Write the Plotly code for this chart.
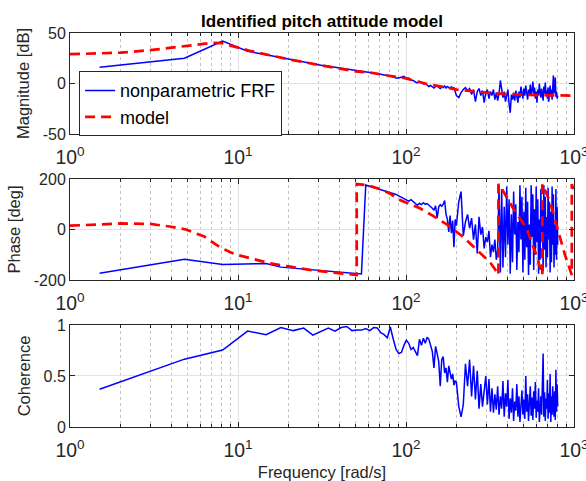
import plotly.graph_objects as go

# Frequency grid of the nonparametric estimate [rad/s]
freq = [
    1.5, 4.8, 8.1, 11.4, 14.7, 18.0, 21.3, 24.6, 27.9, 31.2,
    34.5, 37.8, 41.1, 44.4, 47.7, 51.0, 54.3, 57.6, 60.9, 64.2,
    67.5, 70.8, 74.1, 77.4, 80.7, 84.0, 87.3, 90.6, 93.9, 97.2,
    100.5, 103.8, 107.1, 110.4, 113.7, 117.0, 120.3, 123.6, 126.9, 130.2,
    133.5, 136.8, 140.1, 143.4, 146.7, 150.0, 153.3, 156.6, 159.9, 163.2,
    166.5, 169.8, 173.1, 176.4, 179.7, 183.0, 186.3, 189.6, 192.9, 196.2,
    199.5, 206.1, 212.7, 219.3, 225.9, 232.5, 239.1, 245.7, 252.3, 258.9,
    265.5, 272.1, 278.7, 285.3, 291.9, 298.5, 305.1, 311.7, 318.3, 324.9,
    331.5, 338.1, 344.7, 351.3, 357.9, 364.5, 371.1, 377.7, 384.3, 390.9,
    397.5, 404.1, 410.7, 417.3, 423.9, 430.5, 437.1, 443.7, 450.3, 456.9,
    463.5, 470.1, 476.7, 483.3, 489.9, 496.5, 503.1, 509.7, 516.3, 522.9,
    529.5, 536.1, 542.7, 549.3, 555.9, 562.5, 569.1, 575.7, 582.3, 588.9,
    595.5, 602.1, 608.7, 615.3, 621.9, 628.5, 635.1, 641.7, 648.3, 654.9,
    661.5, 668.1, 674.7, 681.3, 687.9, 694.5, 701.1, 707.7, 714.3, 720.9,
    727.5, 734.1, 740.7, 747.3, 753.9, 760.5, 767.1, 773.7, 780.3, 786.9,
    793.5, 800.1,
]

# Nonparametric FRF magnitude [dB]
frf_mag_db = [
    16, 25, 42, 32, 28.5, 25.5, 23.5, 21, 19.5, 18,
    17, 16, 15, 14, 13, 12, 11.5, 11, 10.8, 10.3,
    9.5, 9, 8.5, 8, 7.5, 6.5, 5.5, 5.5, 6.5, 7,
    5, 5.5, 3.5, 3, 1.5, 0.5, 2, 0.5, -0.5, 0,
    -1.5, -3, -2, -3.5, -4.5, -3, -2.5, -4, -5, -3.5,
    -4, -2.5, -4.5, -3, -4, -5, -3, -5.5, -4, -8,
    -12, -14, -9, -6, -4, -7, -5, -11, -6, -18,
    -8, -5, -12, -7, -19, -9, -6, -15, -8, -12,
    -6, -16, -9, -17, -10, 3, -4, -14, -8, -18,
    -12, -6, -20, -29, -11, -16, -9, -17, -7, -13,
    -19, -8, -14, -3, -10, -15, -5, -12, -2, -9,
    -16, -6, -11, -1, -12, -7, 2, -10, -4, -15,
    -8, -19, -6, -12, 0, -9, -14, -5, -11, -17,
    -3, -10, 1, -12, -7, -15, -4, -18, -9, -2,
    -13, -6, -16, 3, 8, -10, -5, 6, -13, -8,
    -15, -12,
]

# Nonparametric FRF phase [deg]
frf_phase_deg = [
    -173, -118, -139, -138, -135, -149, -153, -157, -160, -162,
    -164, -166, -168, -170, -172, -174, -176, 176, 171, 167,
    163, 158, 154, 150, 147, 143, 139, 133, 128, 122,
    116, 112, 118, 110, 105, 96, 104, 99, 106, 100,
    103, 97, 92, 84, 76, 94, 45, 90, 98, 92,
    100, 115, 60, 40, -10, 55, -15, 35, -70, 40,
    15, 110, 150, -25, 30, 60, 5, 45, -40, 20,
    -95, 50, -20, 10, -75, -30, -50, -5, -110, -60,
    -90, -40, -120, -80, 175, -170, 160, -150, 90, -110,
    170, -60, 120, -175, 60, -130, 150, -20, 100, -160,
    30, -90, 175, -40, 130, -170, 70, -120, 165, -70,
    110, -180, 20, -140, 175, -30, 140, -160, 80, -100,
    170, -50, 120, -175, 40, -120, 160, -10, 95, -165,
    175, -80, 130, -150, 50, -110, 165, -40, 110, -170,
    70, -130, 170, -60, 140, -150, 20, -100, 160, -120,
    90, -60,
]

# Magnitude-squared coherence [-]
coherence = [
    0.37, 0.665, 0.755, 0.94, 0.905, 0.975, 0.945, 0.97, 0.90, 0.94,
    0.97, 0.94, 0.975, 0.985, 0.945, 0.95, 0.95, 0.965, 0.945, 0.975,
    0.97, 0.925, 0.905, 0.875, 0.98, 0.86, 0.76, 0.72, 0.73, 0.80,
    0.85, 0.82, 0.76, 0.78, 0.74, 0.70, 0.86, 0.80, 0.87, 0.82,
    0.88, 0.86, 0.80, 0.74, 0.58, 0.79, 0.72, 0.64, 0.40, 0.66,
    0.69, 0.53, 0.58, 0.44, 0.60, 0.52, 0.47, 0.52, 0.41, 0.45,
    0.44, 0.20, 0.10, 0.22, 0.62, 0.40, 0.66, 0.30, 0.60, 0.27,
    0.55, 0.18, 0.42, 0.20, 0.35, 0.50, 0.22, 0.47, 0.15, 0.38,
    0.14, 0.32, 0.17, 0.40, 0.12, 0.30, 0.18, 0.45, 0.10, 0.33,
    0.20, 0.46, 0.08, 0.28, 0.14, 0.38, 0.06, 0.25, 0.16, 0.42,
    0.10, 0.30, 0.05, 0.22, 0.36, 0.12, 0.27, 0.08, 0.50, 0.15,
    0.32, 0.06, 0.24, 0.40, 0.11, 0.29, 0.07, 0.35, 0.18, 0.44,
    0.09, 0.26, 0.15, 0.38, 0.05, 0.22, 0.30, 0.12, 0.48, 0.72,
    0.10, 0.34, 0.06, 0.28, 0.18, 0.46, 0.08, 0.33, 0.14, 0.52,
    0.05, 0.30, 0.12, 0.40, 0.20, 0.10, 0.35, 0.07, 0.56, 0.15,
    0.42, 0.20,
]

# Identified model response
model_freq_mag = [1, 1.5, 2, 3, 4, 5, 6, 7, 8, 9, 10, 12, 15, 20, 30, 40,
                  50, 60, 80, 100, 130, 160, 200, 300, 400, 600, 800, 1000]
model_mag_db = [29, 29.5, 30.5, 33, 35.5, 37.5, 39, 40.2, 40, 38, 35.5, 32,
                28.5, 24, 18.5, 15, 12, 11, 8, 5, 0, -3, -6, -9, -10.5,
                -11.5, -12, -12]

model_freq_phase = [1, 1.5, 2, 3, 4, 4.9, 6.3, 7.8, 9, 10, 11.8, 15.5, 20.4,
                    26.8, 35, 45, 50.9, 50.9, 58.5, 70, 80, 92, 121, 144, 175,
                    218, 262, 316, 337, 355, 355, 369, 434, 522, 596, 640,
                    648, 648, 720, 786, 884, 970, 970, 1000]
model_phase_deg = [15, 20, 24, 22, 11, 0, -28, -70, -90, -101, -114, -134,
                   -147, -160, -169, -177, -180, 180, 176, 160, 143, 117, 84,
                   55, 20, -28, -77, -130, -155, -180, 180, 165, 84, 5, -101,
                   -170, -180, 180, 110, 18, -101, -180, 180, 150]

FONT = "Liberation Sans, Arial, Helvetica, sans-serif"
INK = "#262626"
BLUE = "#0000FF"
RED = "#FF0000"
MAJOR_GRID = "#e2e2e2"
MINOR_GRID = "#c4c4c4"

fig = go.Figure()

fig.add_trace(go.Scatter(x=freq, y=frf_mag_db, mode="lines",
                         line=dict(color=BLUE, width=1.5),
                         name="nonparametric FRF", legendgroup="frf",
                         xaxis="x", yaxis="y"))
fig.add_trace(go.Scatter(x=model_freq_mag, y=model_mag_db, mode="lines",
                         line=dict(color=RED, width=2.7, dash="10px,6px"),
                         name="model", legendgroup="model",
                         xaxis="x", yaxis="y"))
fig.add_trace(go.Scatter(x=freq, y=frf_phase_deg, mode="lines",
                         line=dict(color=BLUE, width=1.5), showlegend=False,
                         xaxis="x2", yaxis="y2"))
fig.add_trace(go.Scatter(x=model_freq_phase, y=model_phase_deg, mode="lines",
                         line=dict(color=RED, width=2.7, dash="10px,6px"),
                         showlegend=False, xaxis="x2", yaxis="y2"))
fig.add_trace(go.Scatter(x=freq, y=coherence, mode="lines",
                         line=dict(color=BLUE, width=1.5), showlegend=False,
                         xaxis="x3", yaxis="y3"))


def freq_axis(anchor, title=None):
    ax = dict(
        type="log", range=[0, 3], anchor=anchor, automargin=False,
        dtick=1, exponentformat="power",
        labelalias={"1": "10<sup>0</sup>", "10": "10<sup>1</sup>"},
        ticklabeloverflow="allow", ticklabelstandoff=7,
        showline=True, linecolor=INK, linewidth=1, mirror="ticks",
        ticks="inside", ticklen=5, tickcolor=INK,
        showgrid=True, gridcolor=MAJOR_GRID, gridwidth=1,
        minor=dict(dtick="D1", ticks="inside", ticklen=3, tickcolor=INK,
                   showgrid=True, gridcolor=MINOR_GRID, griddash="dot",
                   gridwidth=1),
        zeroline=False,
        tickfont=dict(family=FONT, size=15.5, color=INK),
    )
    if title:
        ax["title"] = dict(text=title, font=dict(family=FONT, size=16.5, color=INK),
                           standoff=5)
    return ax


def value_axis(anchor, domain, rng, vals, texts, title):
    return dict(
        anchor=anchor, domain=domain, range=rng, automargin=False,
        tickmode="array", tickvals=vals, ticktext=texts,
        showline=True, linecolor=INK, linewidth=1, mirror="ticks",
        ticks="inside", ticklen=5, tickcolor=INK,
        showgrid=True, gridcolor=MAJOR_GRID, gridwidth=1,
        zeroline=False,
        tickfont=dict(family=FONT, size=16, color=INK),
        title=dict(text=title, font=dict(family=FONT, size=16.5, color=INK),
                   standoff=8),
    )


fig.update_layout(
    width=586, height=481,
    margin=dict(l=70, r=12, t=33, b=54, autoexpand=False),
    paper_bgcolor="white", plot_bgcolor="white",
    font=dict(family=FONT, color=INK),
    title=dict(text="<b>Identified pitch attitude model</b>",
               font=dict(family=FONT, size=17, color="#000000"),
               x=0.5, xref="paper", xanchor="center",
               y=1 - 21 / 481, yref="container", yanchor="middle"),
    xaxis=freq_axis("y"),
    xaxis2=freq_axis("y2"),
    xaxis3=freq_axis("y3", "Frequency [rad/s]"),
    yaxis=value_axis("x", [0.7437, 1.0], [-50, 50], [-50, 0, 50],
                     ["-50", "0", "50"], "Magnitude [dB]"),
    yaxis2=value_axis("x2", [0.3731, 0.6294], [-200, 200], [-200, 0, 200],
                      ["-200", "0", "200"], "Phase [deg]"),
    yaxis3=value_axis("x3", [0.0, 0.2589], [0, 1], [0, 0.5, 1],
                      ["0", "0.5", "1"], "Coherence"),
    legend=dict(x=0.018, y=0.903, xanchor="left", yanchor="top",
                bgcolor="white", bordercolor=INK, borderwidth=1,
                font=dict(family=FONT, size=18, color="#000000"),
                traceorder="grouped", tracegroupgap=0),
)

fig.write_html("out.html")
